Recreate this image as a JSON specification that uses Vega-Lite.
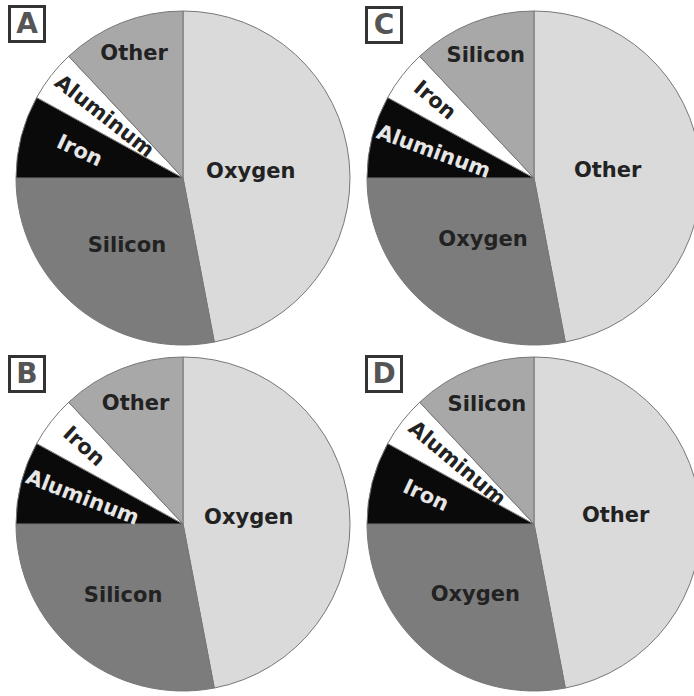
{
  "$schema": "https://vega.github.io/schema/vega-lite/v6.json",
  "background": "white",
  "padding": 0,
  "config": {"view": {"stroke": null}},
  "datasets": {
    "pies": [
      {"panel": "A", "element": "Oxygen", "value": 47, "slot": 1},
      {"panel": "A", "element": "Silicon", "value": 28, "slot": 2},
      {"panel": "A", "element": "Iron", "value": 8, "slot": 3},
      {"panel": "A", "element": "Aluminum", "value": 5, "slot": 4},
      {"panel": "A", "element": "Other", "value": 12, "slot": 5},
      {"panel": "C", "element": "Other", "value": 47, "slot": 1},
      {"panel": "C", "element": "Oxygen", "value": 28, "slot": 2},
      {"panel": "C", "element": "Aluminum", "value": 8, "slot": 3},
      {"panel": "C", "element": "Iron", "value": 5, "slot": 4},
      {"panel": "C", "element": "Silicon", "value": 12, "slot": 5},
      {"panel": "B", "element": "Oxygen", "value": 47, "slot": 1},
      {"panel": "B", "element": "Silicon", "value": 28, "slot": 2},
      {"panel": "B", "element": "Aluminum", "value": 8, "slot": 3},
      {"panel": "B", "element": "Iron", "value": 5, "slot": 4},
      {"panel": "B", "element": "Other", "value": 12, "slot": 5},
      {"panel": "D", "element": "Other", "value": 47, "slot": 1},
      {"panel": "D", "element": "Oxygen", "value": 28, "slot": 2},
      {"panel": "D", "element": "Iron", "value": 8, "slot": 3},
      {"panel": "D", "element": "Aluminum", "value": 5, "slot": 4},
      {"panel": "D", "element": "Silicon", "value": 12, "slot": 5}
    ]
  },
  "vconcat": [
    {
      "hconcat": [
        {
          "width": 351, "height": 349,
          "data": {"name": "pies"},
          "transform": [{"filter": "datum.panel === 'A'"}],
          "layer": [
            {
              "mark": {"type": "arc", "outerRadius": 167, "xOffset": 7.5, "yOffset": 2.5, "stroke": "#777777", "strokeWidth": 1, "clip": true},
              "encoding": {
                "theta": {"field": "value", "type": "quantitative", "stack": true},
                "order": {"field": "slot", "type": "quantitative", "sort": "ascending"},
                "color": {"field": "slot", "type": "nominal", "scale": {"domain": [1, 2, 3, 4, 5], "range": ["#dadada", "#7c7c7c", "#0a0a0a", "#ffffff", "#a8a8a8"]}, "legend": null}
              }
            },
            {
              "mark": {"type": "text", "font": "DejaVu Sans", "fontWeight": "bold", "fontSize": 21, "xOffset": 7.5, "yOffset": 2.5, "baseline": "middle", "align": "center"},
              "encoding": {
                "theta": {"field": "value", "type": "quantitative", "stack": true},
                "order": {"field": "slot", "type": "quantitative", "sort": "ascending"},
                "text": {"field": "element", "type": "nominal"},
                "radius": {"field": "value", "type": "quantitative", "scale": {"type": "linear", "zero": false, "domain": [5, 8, 12, 28, 47], "range": [100, 107, 133, 88, 68]}},
                "angle": {"field": "value", "type": "quantitative", "scale": {"type": "linear", "zero": false, "domain": [5, 8, 12, 28, 47], "range": [38, 25, 0, 0, 0]}},
                "color": {"condition": {"test": "datum.slot === 3", "value": "#e6e6e6"}, "value": "#222222"}
              }
            },
            {
              "transform": [{"filter": "datum.slot === 1"}],
              "mark": {"type": "square", "size": 1225, "fill": "white", "stroke": "#333333", "strokeWidth": 3, "opacity": 1},
              "encoding": {"x": {"value": 27}, "y": {"value": 23}}
            },
            {
              "transform": [{"filter": "datum.slot === 1"}],
              "mark": {"type": "text", "font": "DejaVu Sans", "fontWeight": "bold", "fontSize": 28, "color": "#555555", "baseline": "middle", "align": "center"},
              "encoding": {"x": {"value": 27}, "y": {"value": 24}, "text": {"field": "panel", "type": "nominal"}}
            }
          ]
        },
        {
          "width": 343, "height": 349,
          "data": {"name": "pies"},
          "transform": [{"filter": "datum.panel === 'C'"}],
          "layer": [
            {
              "mark": {"type": "arc", "outerRadius": 167, "xOffset": 11.5, "yOffset": 2.5, "stroke": "#777777", "strokeWidth": 1, "clip": true},
              "encoding": {
                "theta": {"field": "value", "type": "quantitative", "stack": true},
                "order": {"field": "slot", "type": "quantitative", "sort": "ascending"},
                "color": {"field": "slot", "type": "nominal", "scale": {"domain": [1, 2, 3, 4, 5], "range": ["#dadada", "#7c7c7c", "#0a0a0a", "#ffffff", "#a8a8a8"]}, "legend": null}
              }
            },
            {
              "mark": {"type": "text", "font": "DejaVu Sans", "fontWeight": "bold", "fontSize": 21, "xOffset": 11.5, "yOffset": 2.5, "baseline": "middle", "align": "center"},
              "encoding": {
                "theta": {"field": "value", "type": "quantitative", "stack": true},
                "order": {"field": "slot", "type": "quantitative", "sort": "ascending"},
                "text": {"field": "element", "type": "nominal"},
                "radius": {"field": "value", "type": "quantitative", "scale": {"type": "linear", "zero": false, "domain": [5, 8, 12, 28, 47], "range": [126, 104, 131, 80, 74]}},
                "angle": {"field": "value", "type": "quantitative", "scale": {"type": "linear", "zero": false, "domain": [5, 8, 12, 28, 47], "range": [40, 20, 0, 0, 0]}},
                "color": {"condition": {"test": "datum.slot === 3", "value": "#e6e6e6"}, "value": "#222222"}
              }
            },
            {
              "transform": [{"filter": "datum.slot === 1"}],
              "mark": {"type": "square", "size": 1225, "fill": "white", "stroke": "#333333", "strokeWidth": 3, "opacity": 1},
              "encoding": {"x": {"value": 33}, "y": {"value": 24}}
            },
            {
              "transform": [{"filter": "datum.slot === 1"}],
              "mark": {"type": "text", "font": "DejaVu Sans", "fontWeight": "bold", "fontSize": 28, "color": "#555555", "baseline": "middle", "align": "center"},
              "encoding": {"x": {"value": 33}, "y": {"value": 25}, "text": {"field": "panel", "type": "nominal"}}
            }
          ]
        }
      ],
      "spacing": 0,
      "bounds": "flush",
      "resolve": {"scale": {"radius": "independent", "angle": "independent", "theta": "independent"}}
    },
    {
      "hconcat": [
        {
          "width": 351, "height": 347,
          "data": {"name": "pies"},
          "transform": [{"filter": "datum.panel === 'B'"}],
          "layer": [
            {
              "mark": {"type": "arc", "outerRadius": 167, "xOffset": 7.5, "yOffset": -1.5, "stroke": "#777777", "strokeWidth": 1, "clip": true},
              "encoding": {
                "theta": {"field": "value", "type": "quantitative", "stack": true},
                "order": {"field": "slot", "type": "quantitative", "sort": "ascending"},
                "color": {"field": "slot", "type": "nominal", "scale": {"domain": [1, 2, 3, 4, 5], "range": ["#dadada", "#7c7c7c", "#0a0a0a", "#ffffff", "#a8a8a8"]}, "legend": null}
              }
            },
            {
              "mark": {"type": "text", "font": "DejaVu Sans", "fontWeight": "bold", "fontSize": 21, "xOffset": 7.5, "yOffset": -1.5, "baseline": "middle", "align": "center"},
              "encoding": {
                "theta": {"field": "value", "type": "quantitative", "stack": true},
                "order": {"field": "slot", "type": "quantitative", "sort": "ascending"},
                "text": {"field": "element", "type": "nominal"},
                "radius": {"field": "value", "type": "quantitative", "scale": {"type": "linear", "zero": false, "domain": [5, 8, 12, 28, 47], "range": [126, 104, 129, 94, 66]}},
                "angle": {"field": "value", "type": "quantitative", "scale": {"type": "linear", "zero": false, "domain": [5, 8, 12, 28, 47], "range": [42, 21, 0, 0, 0]}},
                "color": {"condition": {"test": "datum.slot === 3", "value": "#e6e6e6"}, "value": "#222222"}
              }
            },
            {
              "transform": [{"filter": "datum.slot === 1"}],
              "mark": {"type": "square", "size": 1225, "fill": "white", "stroke": "#333333", "strokeWidth": 3, "opacity": 1},
              "encoding": {"x": {"value": 27}, "y": {"value": 22}}
            },
            {
              "transform": [{"filter": "datum.slot === 1"}],
              "mark": {"type": "text", "font": "DejaVu Sans", "fontWeight": "bold", "fontSize": 28, "color": "#555555", "baseline": "middle", "align": "center"},
              "encoding": {"x": {"value": 27}, "y": {"value": 23}, "text": {"field": "panel", "type": "nominal"}}
            }
          ]
        },
        {
          "width": 343, "height": 347,
          "data": {"name": "pies"},
          "transform": [{"filter": "datum.panel === 'D'"}],
          "layer": [
            {
              "mark": {"type": "arc", "outerRadius": 167, "xOffset": 11.5, "yOffset": -1.5, "stroke": "#777777", "strokeWidth": 1, "clip": true},
              "encoding": {
                "theta": {"field": "value", "type": "quantitative", "stack": true},
                "order": {"field": "slot", "type": "quantitative", "sort": "ascending"},
                "color": {"field": "slot", "type": "nominal", "scale": {"domain": [1, 2, 3, 4, 5], "range": ["#dadada", "#7c7c7c", "#0a0a0a", "#ffffff", "#a8a8a8"]}, "legend": null}
              }
            },
            {
              "mark": {"type": "text", "font": "DejaVu Sans", "fontWeight": "bold", "fontSize": 21, "xOffset": 11.5, "yOffset": -1.5, "baseline": "middle", "align": "center"},
              "encoding": {
                "theta": {"field": "value", "type": "quantitative", "stack": true},
                "order": {"field": "slot", "type": "quantitative", "sort": "ascending"},
                "text": {"field": "element", "type": "nominal"},
                "radius": {"field": "value", "type": "quantitative", "scale": {"type": "linear", "zero": false, "domain": [5, 8, 12, 28, 47], "range": [98, 112, 128, 92, 82]}},
                "angle": {"field": "value", "type": "quantitative", "scale": {"type": "linear", "zero": false, "domain": [5, 8, 12, 28, 47], "range": [40, 25, 0, 0, 0]}},
                "color": {"condition": {"test": "datum.slot === 3", "value": "#e6e6e6"}, "value": "#222222"}
              }
            },
            {
              "transform": [{"filter": "datum.slot === 1"}],
              "mark": {"type": "square", "size": 1225, "fill": "white", "stroke": "#333333", "strokeWidth": 3, "opacity": 1},
              "encoding": {"x": {"value": 33}, "y": {"value": 22}}
            },
            {
              "transform": [{"filter": "datum.slot === 1"}],
              "mark": {"type": "text", "font": "DejaVu Sans", "fontWeight": "bold", "fontSize": 28, "color": "#555555", "baseline": "middle", "align": "center"},
              "encoding": {"x": {"value": 33}, "y": {"value": 23}, "text": {"field": "panel", "type": "nominal"}}
            }
          ]
        }
      ],
      "spacing": 0,
      "bounds": "flush",
      "resolve": {"scale": {"radius": "independent", "angle": "independent", "theta": "independent"}}
    }
  ],
  "spacing": 0,
  "resolve": {"scale": {"radius": "independent", "angle": "independent", "theta": "independent"}}
}
